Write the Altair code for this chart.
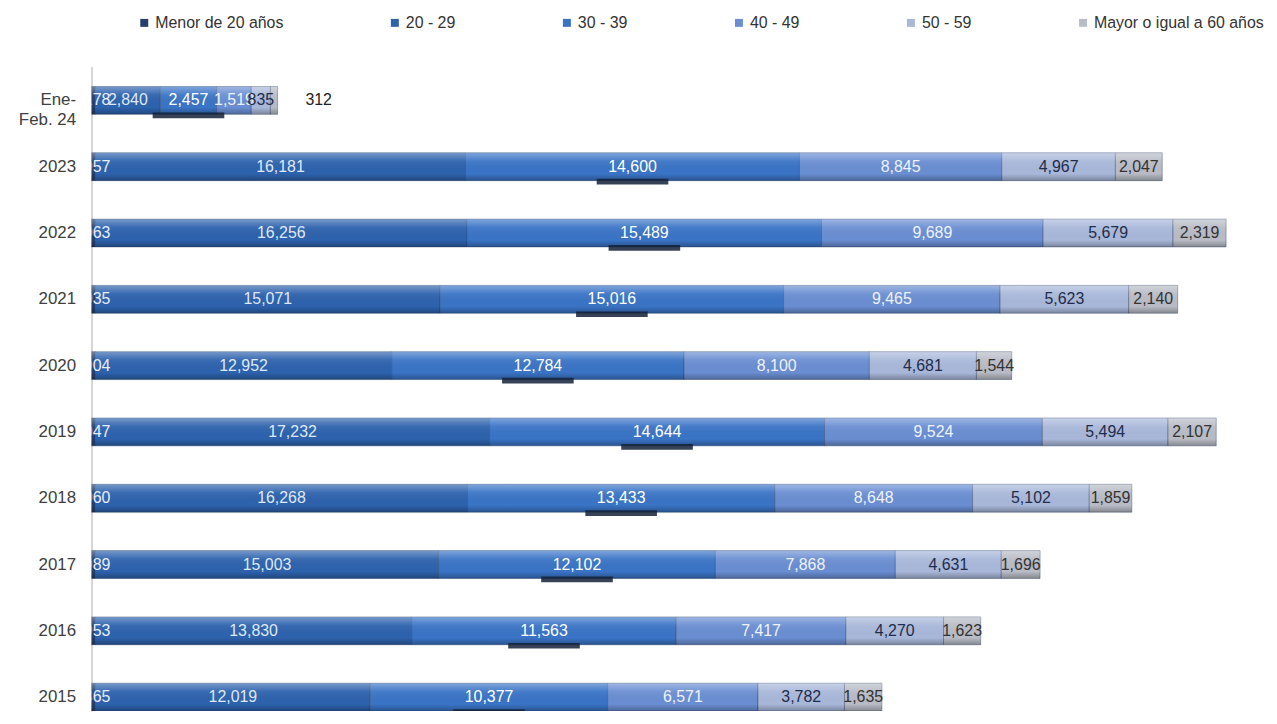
import altair as alt
import pandas as pd

anios = ["Ene-Feb. 24", "2023", "2022", "2021", "2020", "2019", "2018", "2017", "2016", "2015"]
grupos = ["Menor de 20 años", "20 - 29", "30 - 39", "40 - 49", "50 - 59", "Mayor o igual a 60 años"]

menor_20 = [178, 1057, 1063, 1035, 904, 1047, 1060, 989, 953, 865]
g_20_29 = [2840, 16181, 16256, 15071, 12952, 17232, 16268, 15003, 13830, 12019]
g_30_39 = [2457, 14600, 15489, 15016, 12784, 14644, 13433, 12102, 11563, 10377]
g_40_49 = [1519, 8845, 9689, 9465, 8100, 9524, 8648, 7868, 7417, 6571]
g_50_59 = [835, 4967, 5679, 5623, 4681, 5494, 5102, 4631, 4270, 3782]
g_60_mas = [312, 2047, 2319, 2140, 1544, 2107, 1859, 1696, 1623, 1635]

colores = ["#26406e", "#2d62ad", "#3a74c6", "#6a8ed2", "#a9b8da", "#b9bcc6"]
colores_texto = ["#e8eef8", "#dfe8f6", "#ffffff", "#eef2fa", "#1f2d4a", "#333333"]

rows = []
for i, a in enumerate(anios):
    v = menor_20[i]
    rows.append(dict(anio=a, grupo=grupos[0], valor=v, start=-v, end=0, mid=-v / 2,
                     label=f"{v:,}", tcolor=colores_texto[0]))
    acc = 0
    for k, serie in enumerate([g_20_29, g_30_39, g_40_49, g_50_59, g_60_mas], start=1):
        v = serie[i]
        rows.append(dict(anio=a, grupo=grupos[k], valor=v, start=acc, end=acc + v,
                         mid=acc + v / 2, label=f"{v:,}", tcolor=colores_texto[k]))
        acc += v
df = pd.DataFrame(rows)

xscale = alt.Scale(domain=[-170, 49830], nice=False, zero=False)
label_expr = "datum.value == 'Ene-Feb. 24' ? ['Ene-\u2003\u2009', 'Feb. 24'] : datum.value"
Y = alt.Y("anio:N", sort=anios,
          scale=alt.Scale(paddingInner=0.58, paddingOuter=0.15, align=1),
          axis=alt.Axis(title=None, ticks=False, domainColor="#c8c8c8", domainWidth=1.5,
                        labelFontSize=17, labelColor="#404040", labelPadding=16,
                        labelFont="Liberation Sans", labelLineHeight=20,
                        minExtent=79, maxExtent=79, labelExpr=label_expr, grid=False))

base = alt.Chart(df)

bars = base.mark_bar(clip=True, stroke="#22385e", strokeWidth=0.7, strokeOpacity=0.55).encode(
    y=Y,
    x=alt.X("start:Q", scale=xscale, axis=None),
    x2="end:Q",
    color=alt.Color("grupo:N", sort=grupos,
                    scale=alt.Scale(domain=grupos, range=colores),
                    legend=alt.Legend(title=None, orient="none", legendX=45, legendY=-52,
                                      direction="horizontal", columnPadding=104,
                                      symbolType="square", symbolSize=64, symbolStrokeWidth=0,
                                      labelFontSize=16, labelFont="Liberation Sans",
                                      labelColor="#333333", labelOffset=3, labelLimit=300)),
)

gloss = base.mark_bar(clip=True, fill=alt.Gradient(
    gradient="linear", x1=0, x2=0, y1=0, y2=1,
    stops=[alt.GradientStop(color="rgba(255,255,255,0.35)", offset=0),
           alt.GradientStop(color="rgba(255,255,255,0.06)", offset=0.3),
           alt.GradientStop(color="rgba(0,0,0,0.0)", offset=0.75),
           alt.GradientStop(color="rgba(0,0,0,0.28)", offset=1)])).encode(
    y=Y, x=alt.X("start:Q", scale=xscale, axis=None), x2="end:Q")

sombra = base.transform_filter(alt.datum.grupo == "30 - 39").mark_point(
    shape="M-1,-0.08 L1,-0.08 L1,0.08 L-1,0.08 Z", size=5184, filled=True,
    color="#14213a", opacity=0.85, yOffset=15, clip=True).encode(
    y=Y, x=alt.X("mid:Q", scale=xscale, axis=None))

dentro = base.transform_filter(
    (alt.datum.grupo != "Menor de 20 años") & (alt.datum.valor >= 600)
).mark_text(fontSize=16, font="Liberation Sans", clip=True).encode(
    y=Y, x=alt.X("mid:Q", scale=xscale, axis=None), text="label:N",
    color=alt.Color("tcolor:N", scale=None))

fuera = base.transform_filter(
    (alt.datum.grupo != "Menor de 20 años") & (alt.datum.valor < 600)
).mark_text(fontSize=16, font="Liberation Sans", align="left", dx=28, color="#222222").encode(
    y=Y, x=alt.X("end:Q", scale=xscale, axis=None), text="label:N")

menor_lbl = base.transform_filter(alt.datum.grupo == "Menor de 20 años").mark_text(
    fontSize=16, font="Liberation Sans", align="right", dx=15, clip=True,
    color="#e8eef8").encode(
    y=Y, x=alt.X("end:Q", scale=xscale, axis=None), text="label:N")

chart = alt.layer(bars, gloss, sombra, dentro, fuera, menor_lbl).properties(
    width=1150, height=648,
    padding={"left": 5, "top": 5, "right": 5, "bottom": 0},
).configure_view(stroke=None)

chart.save("out.html", embed_options={"renderer": "svg", "actions": False})
